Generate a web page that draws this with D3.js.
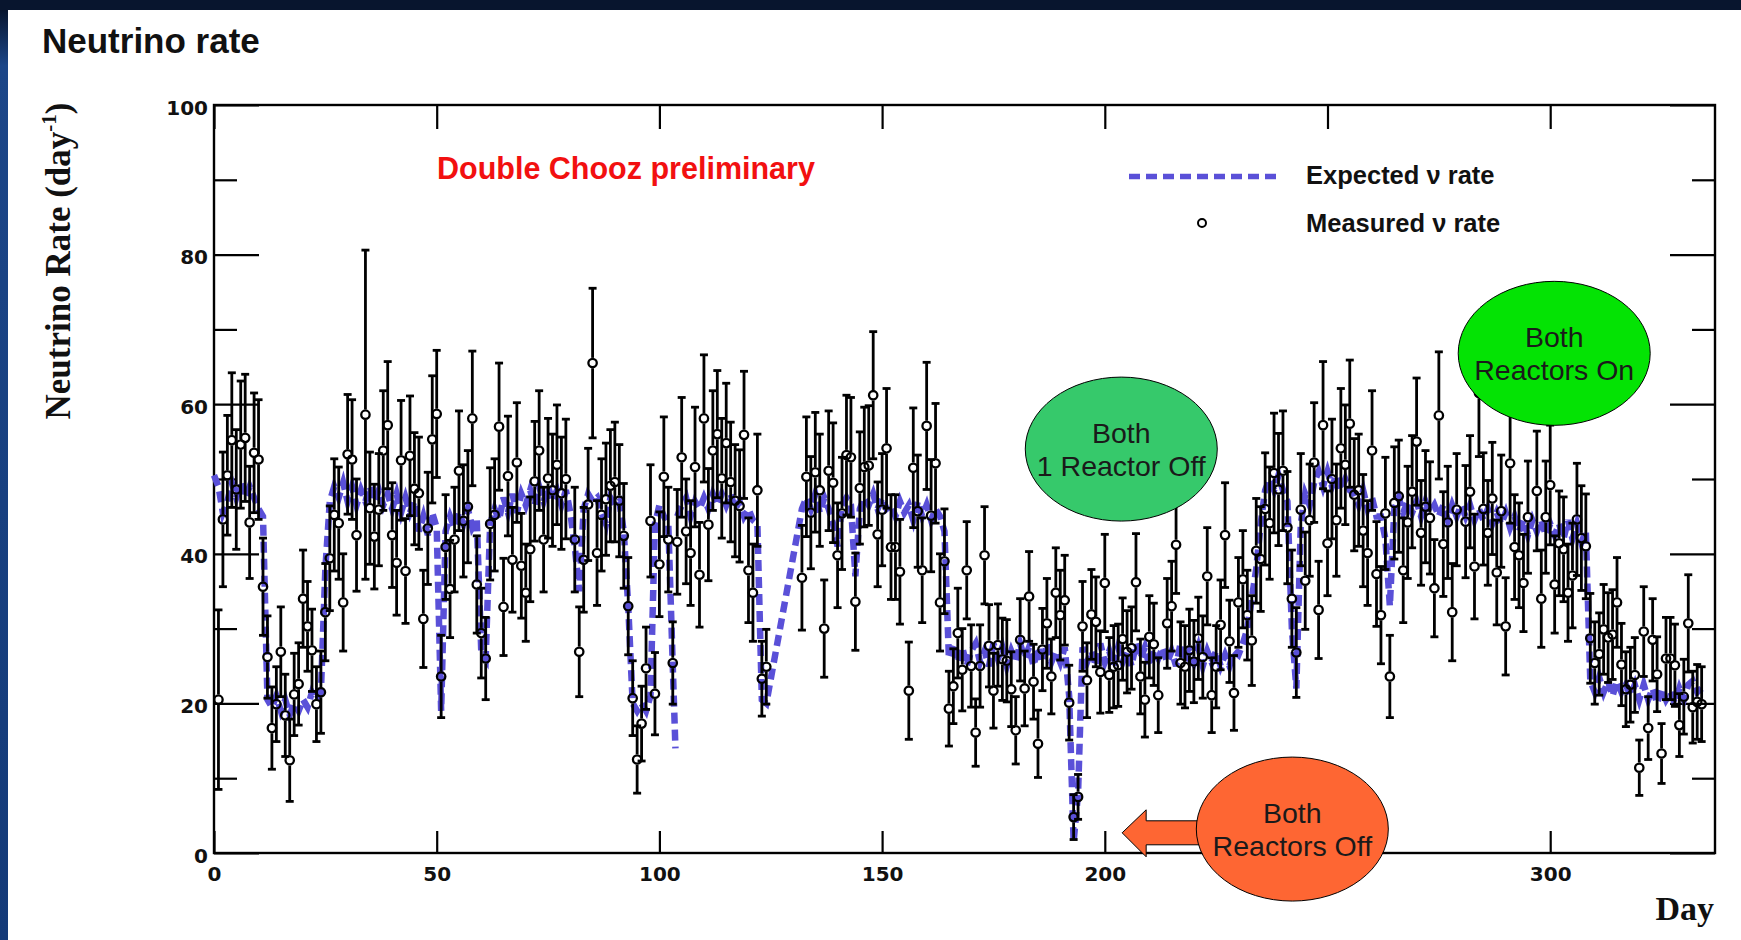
<!DOCTYPE html>
<html>
<head>
<meta charset="utf-8">
<script src="https://cdn.jsdelivr.net/npm/d3@7"></script>
<style>
  body { margin: 0; background: #08152e; }
  svg { display: block; }
</style>
</head>
<body>
<svg id="chart"></svg>
<script>
// measured daily rate (day, value, error)
var days = [1,2,3,4,5,6,7,8,9,10,11,12,13,14,15,16,17,18,19,20,21,22,23,24,25,26,27,28,29,30,31,32,34,35,36,37,38,39,40,
  41,42,43,44,45,46,47,48,49,50,51,52,53,54,55,56,57,58,59,60,61,62,63,64,65,66,67,68,69,70,71,72,73,74,75,76,77,78,79,
  81,82,83,84,85,86,87,88,89,90,91,92,93,94,95,96,97,98,99,100,101,102,103,104,105,106,107,108,109,110,111,112,113,114,
  115,116,117,118,119,120,121,122,123,124,132,133,134,135,136,137,138,139,140,141,142,143,144,145,146,147,148,149,150,
  151,152,153,154,156,157,158,159,160,161,162,163,164,165,166,167,168,169,170,171,172,173,174,175,176,177,178,179,180,
  181,182,183,184,185,186,187,188,189,190,191,192,193,194,195,196,197,198,199,200,201,202,203,204,205,206,207,208,209,
  210,211,212,214,215,216,217,218,219,220,221,222,223,224,225,226,227,228,229,230,231,232,233,234,235,236,237,238,239,
  240,241,242,243,244,245,246,247,248,249,250,251,252,253,254,255,256,257,258,259,260,261,262,263,264,265,266,267,268,
  269,270,271,272,273,274,275,276,277,278,279,281,282,283,284,285,286,287,288,289,290,291,292,293,294,295,297,298,299,
  300,301,302,303,304,305,306,307,308,309,310,311,312,313,314,315,316,317,318,319,320,321,322,323,324,325,326,327,328,
  329,330,331,332,333,334];

var rate = [20.5,44.6,50.5,55.2,48.6,54.6,55.5,44.2,53.5,52.6,35.6,26.2,16.7,19.9,26.9,18.4,12.4,21.2,22.6,34.0,30.3,27.1,
  19.9,21.5,32.2,39.4,45.2,44.1,33.5,53.3,52.6,42.5,58.6,46.1,42.3,45.9,53.8,57.2,42.5,
  38.8,52.5,37.7,53.1,48.7,48.1,31.3,43.4,55.3,58.7,23.6,40.9,35.3,41.9,51.1,44.4,46.3,58.1,35.9,29.4,26.0,44.0,45.2,
  57.0,32.9,50.4,39.2,52.2,38.4,34.8,40.6,49.7,53.8,41.9,50.1,48.5,51.9,48.1,50.0,
  41.9,26.9,39.2,46.6,65.5,40.1,45.2,47.3,49.1,49.6,47.1,42.4,33.0,20.7,12.5,17.3,24.7,44.4,21.3,38.6,50.3,41.9,25.4,
  41.6,52.9,43.0,40.1,51.6,37.2,58.1,43.9,53.8,56.0,50.1,
  54.8,49.6,47.1,46.4,55.9,37.8,34.8,48.5,23.3,24.9,36.8,50.3,45.5,50.9,48.5,30.0,51.1,49.5,39.8,45.4,53.2,52.9,33.6,
  48.8,51.6,51.8,61.2,42.6,45.9,
  54.1,40.9,40.9,37.6,21.7,51.5,45.7,37.8,57.1,45.1,52.1,33.5,39.0,19.3,22.3,29.4,24.5,37.8,25.0,16.1,25.0,39.8,27.7,
  21.7,27.8,25.9,25.7,21.9,16.4,
  28.5,22.0,34.3,22.9,14.6,27.2,30.7,23.6,34.8,31.8,33.8,20.1,4.8,7.5,30.3,23.1,31.9,30.9,24.2,36.1,23.8,24.9,25.1,
  28.6,26.9,27.4,36.2,23.6,20.5,
  28.9,27.9,21.1,30.7,33.0,41.2,25.4,24.9,27.1,25.6,28.7,26.2,37.0,21.1,24.9,30.5,42.5,28.3,21.4,33.5,36.6,31.8,28.4,
  40.4,39.3,46.0,44.1,50.8,48.6,
  51.1,43.5,34.0,26.8,45.9,36.4,44.5,52.2,32.5,57.2,41.4,50.0,44.5,54.1,51.9,57.4,47.9,48.5,43.1,40.1,53.8,37.3,31.8,
  45.4,23.6,46.8,47.7,37.8,44.2,
  48.3,55.0,42.8,46.3,44.8,35.4,58.5,41.3,44.2,32.2,45.9,44.3,48.3,38.3,61.5,46.0,42.8,47.4,37.5,45.7,30.3,52.1,40.9,
  39.8,36.1,44.9,48.4,34.0,44.9,
  49.2,35.9,41.4,40.6,34.8,37.1,44.6,42.1,41.0,28.7,25.4,26.6,29.9,28.8,29.2,33.5,25.2,21.9,22.5,23.8,11.4,29.6,16.7,
  28.5,23.9,13.3,26.0,26.0,25.1,
  17.1,20.9,30.7,19.5,20.2,19.9];

var rateErr = [12,9,8,9,8,8.5,8.5,7.5,8,8,6.5,5.5,5.5,5,6,5.5,5.5,5.5,5.5,6.5,6,5.5,5,5.5,6.5,7,7.5,7.5,6.5,8,8,7.5,22,
  7.5,7,7.5,8,8.5,7,
  7,8,7,8,7.5,7.5,6.5,7.5,8.5,8.5,5.5,7,6.5,7,8,7.5,7.5,9,6.5,6,5.5,7.5,7.5,8.5,6.5,8,7,8,7,6.5,7,8,8,7,8,7.5,8,7.5,8,
  7,6,7,7.5,10,7,7.5,7.5,7.5,8,7.5,7,6.5,5,4.5,5,5.5,7.5,5.5,7,8,7,5.5,7,8,7,7,8,7,8.5,7.5,8,8.5,8,
  8,8,7.5,7.5,8.5,7,6.5,7.5,5,5,7,8,7.5,8,7.5,6.5,8,8,7,7.5,8,8,6.5,7.5,8,8,8.5,7,7.5,
  8,7,7,7,6.5,8,7.5,7,8.5,7.5,8,6.5,7,5,5,6,5.5,6.5,5.5,4.5,5.5,6.5,5.5,5,5.5,5.5,5.5,5,4.5,
  5.5,5,6,5,4.5,5.5,6,5,6,6,6,5,3,3,6,5,6,6,5.5,6.5,5,5.5,5.5,5.5,5.5,5.5,6.5,5,5,
  5.5,5.5,5,6,6,6.5,5.5,5.5,5.5,5.5,5.5,5.5,6.5,5,5.5,6,7,5.5,5,6,6.5,6,6,7,7,7.5,7.5,8,7.5,
  8,7.5,6.5,6,7.5,6.5,7.5,8,6.5,8.5,7,8,7.5,8,8,8.5,7.5,7.5,7.5,7,8,7,6.5,7.5,5.5,7.5,7.5,7,7.5,
  7.5,8.5,7,7.5,7.5,6.5,8.5,7,7.5,6.5,7.5,7.5,7.5,7,8.5,7.5,7,7.5,7,7.5,6.5,8,7,7,6.5,7.5,8,6.5,7.5,
  8,6.5,7,7,6.5,7,7.5,7,7,6,5.5,5.5,6,6,6,6,5.5,5,5,5,3.7,6,4.2,5.5,5,4,5.5,5.5,5.5,
  4.2,5,6.5,4.8,5,5];

// expected rate (null breaks the line)
var expDays = [0,1,2,3,4,5,6,7,8,9,10,11,12,13,14,15,16,17,18,19,20,21,22,23,24,25,26,27,28,29,30,31,32,33,34,35,36,37,
  38,39,40,41,42,43,44,45,46,47,48,49,50,51,52,53,54,55,56,57,58,59,60,61,62,63,64,65,66,67,68,69,70,71,72,73,74,75,76,
  77,78,79,80,81,82,83,84,85,86,87,88,89,90,91,92,93,94,95,96,97,98,99,100,101,102,103,103.6,null,104,105,106,107,108,
  109,110,111,112,113,114,115,116,117,118,119,120,121,122,123,124,132,133,134,135,136,137,138,139,140,141,142,143,144,
  145,146,147,148,149,150,151,152,153,154,155,156,157,158,159,160,161,162,163,164,165,166,167,168,169,170,171,172,173,
  174,175,176,177,178,179,180,181,182,183,184,185,186,187,188,189,190,191,192,193,194,195,196,197,198,199,200,201,202,
  203,204,205,206,207,208,209,210,211,212,213,214,215,216,217,218,219,220,221,222,223,224,225,226,227,228,229,230,231,
  232,233,234,235,236,237,238,239,240,241,242,243,244,245,246,247,248,249,250,251,252,253,254,255,256,257,258,259,260,
  261,262,263,264,265,266,267,268,269,270,271,272,273,274,275,276,277,278,279,280,281,282,283,284,285,286,287,288,289,
  290,291,292,293,294,295,296,297,298,299,300,301,302,303,304,305,306,307,308,309,310,311,312,313,314,315,316,317,318,
  319,320,321,322,323,324,325,326,327,328,329,330,331,332,333,334];

var expRate = [
  50.5,49,45.5,47,49.5,47.5,49.5,47.5,49,47.5,      // 0-9
  46,45,20.5,19.5,21,19,20.5,18.5,20,19,            // 10-19
  20.5,19.5,21.5,20.5,21.5,38,47,49,47.5,49.5,      // 20-29
  47,49,46.5,48.5,47,49,47,48.5,46.5,48,            // 30-39
  46,48,45.5,47.5,45.5,47,43,45,42.5,45.5,          // 40-49
  43.5,19,43,45,43.5,45.5,44,46,43.5,44.5,          // 50-59
  27,26,44,46,44.5,47.5,45.5,48,45.5,48,            // 60-69
  46.5,48.5,46.5,49,47,49,47,48.5,46.5,48.5,        // 70-79
  45.5,41,35,46,48,47,47.5,45.5,44,47.5,            // 80-89
  46.5,47,43,33,20,19,20,19,21,44,                  // 90-99
  46.5,45,44,25,14,null,                            // 100-103.6
  45,46.5,47.5,45,47,46,47.5,46,48,46.5,            // 104-113
  48,46.5,48,46,47,45,46,44.5,44,20.5,20,           // 114-124
  46,47.5,46,48,45.5,47.5,46,44,41,46.5,            // 132-141
  47.5,46.5,37,46,47.5,46.5,48,46,47.5,46,          // 142-151
  46.5,45,47,45.5,46.5,44.5,47,45,46.5,44.5,        // 152-161
  46,45,43,26,28,25.5,27.5,25,27,28,                // 162-171
  25.5,27,25,28,26,27.5,25,27,25.5,28,              // 172-181
  26,27.5,25,27.5,25.5,28,25.5,27,25.5,27.5,        // 182-191
  21,1.5,8,27.5,25.5,27,25,28,25.5,27,              // 192-201
  25,27.5,25.5,27,25,28,26,27.5,25,27,              // 202-211
  26,27.5,25.5,27,25,28,25.5,27,25.5,27.5,          // 212-221
  25,27,25.5,27,25,26.5,25,27,26.5,28,              // 222-231
  30,34,38,44,48.5,50,48.5,50.5,48.5,47,            // 232-241
  30,22,44,48,46.5,49.5,51,49,51,49,                // 242-251
  50.5,48.5,50,48.5,48,46.5,48.5,46,47.5,45,        // 252-261
  45,42,33,46,47.5,45.5,47,45.5,47,45,              // 262-271
  47,45.5,46.5,45,46.5,44.5,46.5,45,46.5,45,        // 272-281
  46.5,44.5,46,44.5,46,44,45.5,44,45.5,43.5,        // 282-291
  45,43,44.5,42.5,44.5,43,44.5,42.5,44,42.5,        // 292-301
  44,42,44.5,42,44,41.5,43,23,21.5,23.5,            // 302-311
  21.5,23,21,23,21.5,22.5,21,22.5,20.5,22.5,        // 312-321
  20.5,22,20,22,20.5,21.5,20,22,20.5,22.5,          // 322-331
  23,21.5,22];                                      // 332-334

var xTickValues = [0, 50, 100, 150, 200, 250, 300];
var yMajorTicks = [0, 20, 40, 60, 80, 100];
var yMinorTicks = [10, 30, 50, 70, 90];

var notes = [
  {lines: ["Both", "1 Reactor Off"], day: 203.7, value: 54.0, fill: "#36c96b"},
  {lines: ["Both", "Reactors On"], day: 300.9, value: 66.8, fill: "#04e304"},
  {lines: ["Both", "Reactors Off"], day: 242.1, value: 3.2, fill: "#fe6633"}
];

var W = 1741, H = 940;
var blue = "#5a50d8";

var svg = d3.select("#chart").attr("width", W).attr("height", H);

// slide background
var defs = svg.append("defs");
var grad = defs.append("linearGradient").attr("id", "edge").attr("x1", 0).attr("y1", 0).attr("x2", 0).attr("y2", 1);
grad.append("stop").attr("offset", "0%").attr("stop-color", "#08152e");
grad.append("stop").attr("offset", "6%").attr("stop-color", "#1c4688");
grad.append("stop").attr("offset", "100%").attr("stop-color", "#143a78");
svg.append("rect").attr("width", W).attr("height", H).attr("fill", "#08152e");
svg.append("rect").attr("x", 0).attr("y", 10).attr("width", 8).attr("height", H - 10).attr("fill", "url(#edge)");
svg.append("rect").attr("x", 8).attr("y", 10).attr("width", W - 8).attr("height", H - 10).attr("fill", "white");

svg.append("text").attr("x", 42).attr("y", 53)
  .attr("font-family", "Liberation Sans, Arial, sans-serif").attr("font-weight", "bold")
  .attr("font-size", 35).attr("fill", "#111").text("Neutrino rate");

var x = d3.scaleLinear().domain([0, 337]).range([214, 1715]);
var y = d3.scaleLinear().domain([0, 100]).range([853, 105]);

var axisFont = function(g) {
  g.attr("font-family", "DejaVu Sans, Verdana, sans-serif").attr("font-size", 20).attr("font-weight", "bold");
  g.select(".domain").remove();
  g.selectAll(".tick line").attr("stroke", "#000").attr("stroke-width", 2.2);
  g.selectAll(".tick text").attr("fill", "#111");
};

// bottom axis with labels
svg.append("g").attr("transform", "translate(0," + y(0) + ")")
  .call(d3.axisBottom(x).tickValues(xTickValues).tickSize(-22).tickPadding(14).tickFormat(d3.format("d")))
  .call(axisFont);
// top axis
svg.append("g").attr("transform", "translate(0," + y(100) + ")")
  .call(d3.axisTop(x).tickValues(xTickValues).tickSize(-24).tickFormat(""))
  .call(axisFont);
// left axis
svg.append("g").attr("transform", "translate(" + x(0) + ",0)")
  .call(d3.axisLeft(y).tickValues(yMajorTicks).tickSize(-45).tickPadding(6).tickFormat(d3.format("d")))
  .call(axisFont)
  .selectAll(".tick text").attr("dy", "0.45em");
svg.append("g").attr("transform", "translate(" + x(0) + ",0)")
  .call(d3.axisLeft(y).tickValues(yMinorTicks).tickSize(-23).tickFormat(""))
  .call(axisFont);
// right axis
svg.append("g").attr("transform", "translate(" + x(337) + ",0)")
  .call(d3.axisRight(y).tickValues(yMajorTicks).tickSize(-45).tickFormat(""))
  .call(axisFont);
svg.append("g").attr("transform", "translate(" + x(337) + ",0)")
  .call(d3.axisRight(y).tickValues(yMinorTicks).tickSize(-23).tickFormat(""))
  .call(axisFont);

svg.append("rect").attr("x", x(0)).attr("y", y(100))
  .attr("width", x(337) - x(0)).attr("height", y(0) - y(100))
  .attr("fill", "none").attr("stroke", "#000").attr("stroke-width", 2.4);

// axis titles
svg.append("text")
  .attr("transform", "translate(70,261) rotate(-90)")
  .attr("text-anchor", "middle")
  .attr("font-family", "Liberation Serif, Times New Roman, serif").attr("font-weight", "bold")
  .attr("font-size", 35).attr("fill", "#111")
  .call(function(t) {
    t.append("tspan").text("Neutrino Rate (day");
    t.append("tspan").attr("font-size", 21).attr("dy", -14).text("-1");
    t.append("tspan").attr("dy", 14).text(")");
  });

svg.append("text").attr("x", 1714).attr("y", 920).attr("text-anchor", "end")
  .attr("font-family", "Liberation Serif, Times New Roman, serif").attr("font-weight", "bold")
  .attr("font-size", 34).attr("fill", "#111").text("Day");

// expected rate (dashed)
var pts = expDays.map(function(d, i) { return d == null ? null : [d, expRate[i]]; });
var line = d3.line().defined(function(d) { return d != null && d[1] != null; })
  .x(function(d) { return x(d[0]); }).y(function(d) { return y(d[1]); });
svg.append("path").datum(pts).attr("d", line)
  .attr("fill", "none").attr("stroke", blue).attr("stroke-width", 6.5)
  .attr("stroke-dasharray", "11,6");

// measured rate
var meas = days.map(function(d, i) { return {day: d, v: rate[i], e: rateErr[i]}; });
var r = 4.2;
var capW = 4;
var bars = svg.append("g").attr("stroke", "#000").attr("stroke-width", 2.8);
meas.forEach(function(p) {
  var cx = x(p.day), cy = y(p.v), top = y(p.v + p.e), bot = y(Math.max(p.v - p.e, 0));
  if (cy - r - 1 > top) {
    bars.append("line").attr("x1", cx).attr("x2", cx).attr("y1", top).attr("y2", cy - r - 1);
  }
  if (bot > cy + r + 1) {
    bars.append("line").attr("x1", cx).attr("x2", cx).attr("y1", cy + r + 1).attr("y2", bot);
  }
  bars.append("line").attr("x1", cx - capW).attr("x2", cx + capW).attr("y1", top).attr("y2", top);
  bars.append("line").attr("x1", cx - capW).attr("x2", cx + capW).attr("y1", bot).attr("y2", bot);
});
svg.append("g").selectAll("circle").data(meas).enter().append("circle")
  .attr("cx", function(p) { return x(p.day); })
  .attr("cy", function(p) { return y(p.v); })
  .attr("r", r).attr("fill", "none").attr("stroke", "#000").attr("stroke-width", 2.3);

// labels
svg.append("text").attr("x", 437).attr("y", 179)
  .attr("font-family", "Liberation Sans, Arial, sans-serif").attr("font-weight", "bold")
  .attr("font-size", 30.5).attr("fill", "#f21010").text("Double Chooz preliminary");

// legend
svg.append("line").attr("x1", 1129).attr("x2", 1277).attr("y1", 176.5).attr("y2", 176.5)
  .attr("stroke", blue).attr("stroke-width", 5.5).attr("stroke-dasharray", "11,6");
svg.append("circle").attr("cx", 1202).attr("cy", 223).attr("r", 4)
  .attr("fill", "none").attr("stroke", "#000").attr("stroke-width", 2);
var legFont = function(t) {
  t.attr("font-family", "Liberation Sans, Arial, sans-serif").attr("font-weight", "bold")
    .attr("font-size", 25.5).attr("fill", "#111");
};
svg.append("text").attr("x", 1306).attr("y", 184).call(legFont).text("Expected \u03bd rate");
svg.append("text").attr("x", 1306).attr("y", 232).call(legFont).text("Measured \u03bd rate");

// arrow for the reactors-off period
var ax = x(203.9), ay = y(2.7);
svg.append("path")
  .attr("d", "M" + ax + "," + ay + " L" + (ax + 24) + "," + (ay - 23) + " L" + (ax + 24) + "," + (ay - 12) +
    " L" + (ax + 90) + "," + (ay - 12) + " L" + (ax + 90) + "," + (ay + 12) + " L" + (ax + 24) + "," + (ay + 12) +
    " L" + (ax + 24) + "," + (ay + 24) + " Z")
  .attr("fill", "#fe6633").attr("stroke", "#000").attr("stroke-width", 1);

// reactor state bubbles
var bubble = svg.append("g").selectAll("g").data(notes).enter().append("g")
  .attr("transform", function(n) { return "translate(" + x(n.day) + "," + y(n.value) + ")"; });
bubble.append("ellipse").attr("rx", 96).attr("ry", 72)
  .attr("fill", function(n) { return n.fill; }).attr("stroke", "#000").attr("stroke-width", 1);
bubble.each(function(n) {
  var g = d3.select(this);
  n.lines.forEach(function(s, i) {
    g.append("text").attr("x", 0).attr("y", -6 + i * 33).attr("text-anchor", "middle")
      .attr("font-family", "Liberation Sans, Arial, sans-serif").attr("font-size", 28.5)
      .attr("fill", "#1a1a1a").text(s);
  });
});
</script>
</body>
</html>
